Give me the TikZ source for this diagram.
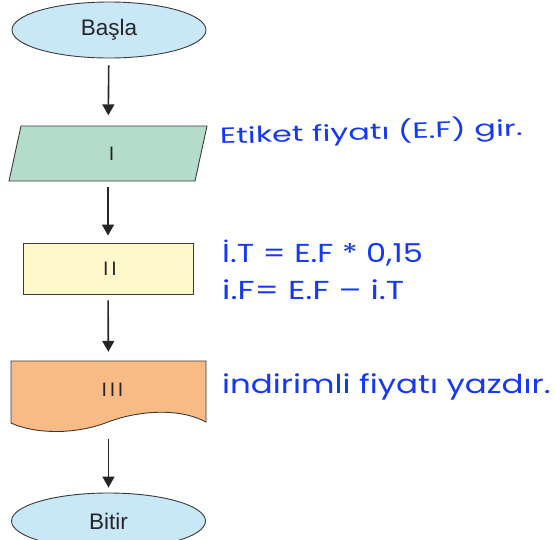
\documentclass[tikz,border=0pt]{standalone}
\usepackage{fontspec}
\usepackage{graphicx}
\setmainfont{Liberation Sans}
\newfontfamily\handfont{Poppins}
\newfontfamily\barfont[LetterSpace=14]{Liberation Sans}
\usetikzlibrary{shapes.geometric,arrows.meta}
\definecolor{termfill}{HTML}{C8E8F8}
\definecolor{inputfill}{HTML}{B3DDCA}
\definecolor{procfill}{HTML}{FFF8CC}
\definecolor{docfill}{HTML}{F8BB85}
\definecolor{edgegray}{HTML}{3A3A3A}
\definecolor{inkblue}{HTML}{1438F5}
\begin{document}
\begin{tikzpicture}[x=1pt,y=-1pt,
  shapeline/.style={draw=edgegray,line width=0.9pt},
  terminal/.style={ellipse,shapeline,fill=termfill,minimum width=194pt,minimum height=56pt,inner sep=0pt,font=\fontsize{22.5}{26}\selectfont},
  anchorbox/.style={inner sep=0pt,text=black!85},
  numfont/.style={font=\barfont\fontsize{19.5}{23}\selectfont},
  flow/.style={draw=black!85,line width=1.6pt,-{Triangle[width=12pt,length=11pt]}},
  note/.style={anchor=base west,inner sep=0pt,text=inkblue}]
\useasboundingbox (0,0) rectangle (555,539);

% start terminal
\node[terminal,text=black!85] (start) at (109,30) {\raisebox{-3pt}{Başla}};

% input: parallelogram
\path[shapeline,fill=inputfill] (21,126) -- (207,126) -- (195,181) -- (9,181) -- cycle;
\node[anchorbox,numfont,minimum width=186pt,minimum height=55pt] (input) at (108,154) {\hspace*{7pt}\raisebox{-2.5pt}{I}};

% process
\node[anchorbox,numfont,shapeline,fill=procfill,minimum width=170pt,minimum height=51pt] (proc) at (108,268.5) {\hspace*{4pt}II};

% output document
\path[shapeline,fill=docfill] (11,361) -- (206,361) -- (206,422)
  .. controls (180,408) and (140,410) .. (108,422)
  .. controls (75,435) and (35,434) .. (11,423) -- cycle;
\node[anchorbox,numfont,minimum width=195pt,minimum height=62pt] (out) at (108.5,392) {\hspace*{8pt}\raisebox{4.5pt}{III}};

% end terminal
\node[terminal,text=black!85] (stop) at (108.5,521) {\raisebox{-4pt}{Bitir}};

% connectors
\draw[flow,shorten <=7pt,shorten >=11pt] (start) -- (input);
\draw[flow,shorten <=5pt,shorten >=7pt] (input) -- (proc);
\draw[flow,shorten <=6pt,shorten >=9pt] (proc) -- (out);
\draw[flow,shorten <=16pt,shorten >=5pt] (out) -- (stop);

% handwritten notes
\node[note,rotate=1.6] (n1) at (220,144) {\scalebox{1.45}[1]{\handfont\fontsize{22}{26}\selectfont Etiket fiyatı (E.F) gir.}};
\node[note] (n2) at (222,262) {\scalebox{1.23}[1]{\handfont\fontsize{26}{30}\selectfont İ.T = E.F * 0,15}};
\node[note] (n3) at (222,299) {\scalebox{1.3}[1]{\handfont\fontsize{26}{30}\selectfont i.F= E.F – i.T}};
\node[note] (n4) at (222,393) {\scalebox{1.25}[1]{\handfont\fontsize{26}{30}\selectfont indirimli fiyatı yazdır.}};
\end{tikzpicture}
\end{document}
